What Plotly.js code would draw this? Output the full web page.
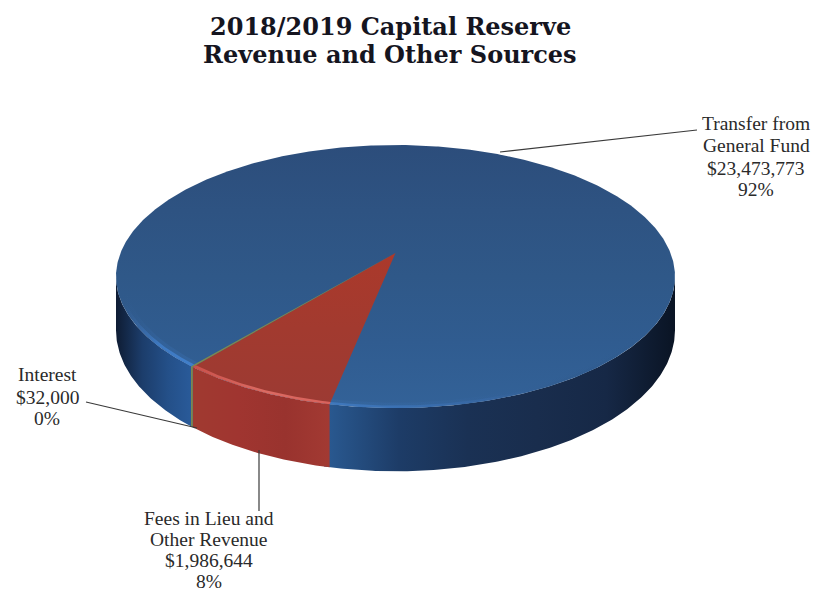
<!DOCTYPE html>
<html><head><meta charset="utf-8">
<script src="https://cdn.plot.ly/plotly-3.0.1.min.js"></script>
<style>html,body{margin:0;padding:0;background:#fff}#c{width:814px;height:593px}</style>
</head><body><div id="c"></div>
<script>
// ---- data ----
const categories = ["Fees in Lieu and Other Revenue", "Interest", "Transfer from General Fund"];
const values = [1986644, 32000, 23473773];
const labelLines = [["Fees in Lieu and", "Other Revenue"], ["Interest"], ["Transfer from", "General Fund"]];
const titleLines = ["2018/2019 Capital Reserve", "Revenue and Other Sources"];

// ---- pie geometry (a tilted disc seen in perspective) ----
const CX = 395.5, CY = 253, KX = 275, KY = 127.3, P = -0.1787, WALL = 52, START_DEG = 11.4;
const TANGENT = Math.acos(-P) * 180 / Math.PI;
const total = values.reduce((a, b) => a + b, 0);
function pt(deg, r, drop) {
  const t = deg * Math.PI / 180, u = -r * Math.sin(t), v = r * Math.cos(t), w = 1 + P * v;
  return [CX + KX * u / w, CY + KY * v / w + (drop ? WALL / w : 0)];
}
function arc(a, b, r, drop) {
  const n = Math.max(2, Math.ceil(Math.abs(b - a) * 2)), out = [];
  for (let i = 0; i <= n; i++) out.push(pt(a + (b - a) * i / n, r, drop));
  return out;
}
function poly(points, fill) {
  const tr = { x: points.map(p => p[0]), y: points.map(p => p[1]), type: "scatter", mode: "lines",
    line: { width: 0 }, fill: "toself", hoverinfo: "skip" };
  if (typeof fill === "string") tr.fillcolor = fill; else tr.fillgradient = fill;
  return tr;
}
const grad = (type, start, stop, stops) => ({ type, start, stop,
  colorscale: stops.map((s, i) => [i / (stops.length - 1), s]) });

// slice boundaries from the values
let cum = START_DEG; const edges = [cum];
values.forEach(v => { cum += v / total * 360; edges.push(cum); });
const [a0, a1, a2] = edges;

const traces = [];
// walls: blue runs a little under the red so no seam shows
const wall = (a, b) => arc(a, b, 1, false).concat(arc(a, b, 1, true).reverse());
traces.push(poly(wall(a0 + 1, -TANGENT), grad("horizontal", 330, 675,
  ["#29588f", "#1d3c67", "#1a3154", "#192d4d", "#162846", "#0a1424"])));
traces.push(poly(wall(a2 - 1, TANGENT), grad("horizontal", 116, 195,
  ["#0e1c33", "#1c3d6b", "#245089", "#2a5c9c"])));
traces.push(poly(wall(a0, a1), grad("horizontal", 192, 332, ["#a03a30", "#a03530", "#99332e", "#a33a33"])));
traces.push(poly(wall(a1, a2), "#7f8a4e"));
// top face
traces.push(poly(arc(0, 360, 1, false), grad("vertical", 145, 408,
  ["#2c4d7b", "#2e5382", "#2f5888", "#305c90", "#336298"])));
// slice tops
const wedge = (a, b) => [[CX, CY]].concat(arc(a, b, 1, false));
traces.push(poly(wedge(a0, a1), grad("vertical", 253, 405, ["#ab392b", "#a23a2f", "#9c3a33"])));
traces.push(poly(wedge(a1, a2), "#7f8a4e"));
// soft bevel, then bright edge, round the front rim
const ring = (a, b, r) => arc(a, b, 1, false).concat(arc(b, a, r, false));
traces.push(poly(ring(a0, -62, 0.972), grad("horizontal", 330, 640,
  ["rgba(63,120,189,0.2)", "rgba(58,112,178,0.16)", "rgba(50,90,145,0.08)", "rgba(40,78,125,0)"])));
traces.push(poly(ring(a2, 72, 0.972), grad("horizontal", 125, 192,
  ["rgba(60,105,165,0)", "rgba(61,120,192,0.18)", "rgba(65,127,203,0.2)"])));
traces.push(poly(ring(a0, -62, 0.987), grad("horizontal", 330, 640,
  ["#3f78bd", "#3a70b2", "rgba(56,104,165,0.7)", "rgba(48,90,140,0.3)", "rgba(40,78,125,0)"])));
traces.push(poly(ring(a2, 72, 0.987), grad("horizontal", 125, 192,
  ["rgba(60,105,165,0)", "#3d78c0", "#417fcb"])));
traces.push(poly(ring(a0, a1, 0.987), grad("horizontal", 192, 332, ["#c9504a", "#db6a62", "#d8625c"])));

// leader lines
const leaders = [[[259, 259], [450, 511]], [[86, 197], [402, 428]], [[697, 500], [130, 152]]];
leaders.forEach(l => traces.push({ x: l[0], y: l[1], type: "scatter", mode: "lines",
  line: { color: "#3a3a3a", width: 1.2 }, hoverinfo: "skip" }));

// labels
const LABEL_FONT = { family: "Liberation Serif", size: 19.5, color: "#2a2a2a" };
const money = v => "$" + v.toLocaleString("en-US");
const pct = v => Math.round(v / total * 100) + "%";
const labelPos = [
  { x: 209, ys: [518, 539, 560, 581] },
  { x: 47, ys: [374, 397, 418] },
  { x: 756, ys: [123, 145, 168, 189] }
];
const annotations = [];
values.forEach((v, i) => {
  const lines = labelLines[i].concat([money(v), pct(v)]);
  lines.forEach((t, j) => annotations.push({ x: labelPos[i].x, y: labelPos[i].ys[j], text: t, showarrow: false,
    xref: "x", yref: "y", xanchor: "center", yanchor: "middle", font: LABEL_FONT }));
});
titleLines.forEach((t, j) => annotations.push({ x: 390, y: [26, 54][j], text: t, showarrow: false,
  xref: "x", yref: "y", xanchor: "center", yanchor: "middle",
  font: { family: "DejaVu Serif", size: 24, color: "#15151f", weight: 700 } }));

const hidden = { visible: false, fixedrange: true };
Plotly.newPlot("c", traces, {
  width: 814, height: 593, margin: { l: 0, r: 0, t: 0, b: 0 }, showlegend: false,
  paper_bgcolor: "#fff", plot_bgcolor: "#fff", hovermode: false,
  xaxis: Object.assign({ range: [0, 814] }, hidden),
  yaxis: Object.assign({ range: [593, 0] }, hidden),
  annotations
}, { displayModeBar: false, staticPlot: true });
</script></body></html>
